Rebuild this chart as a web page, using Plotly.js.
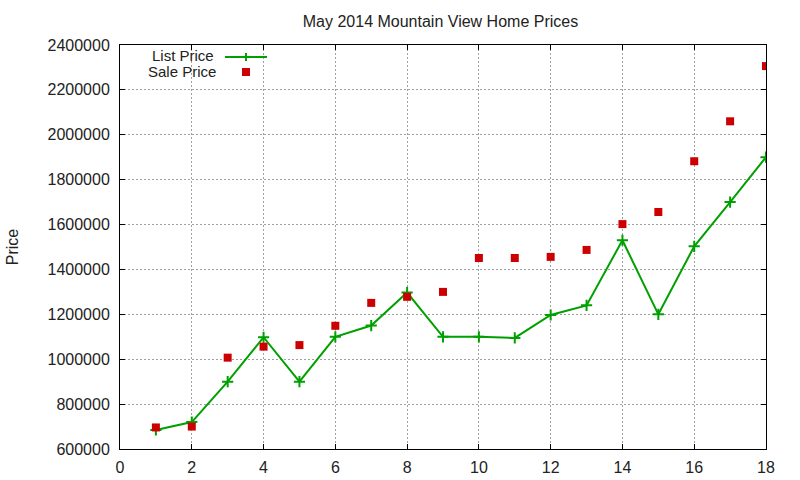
<!DOCTYPE html>
<html>
<head>
<meta charset="utf-8">
<script src="https://cdn.plot.ly/plotly-3.0.1.min.js"></script>
<style>html,body{margin:0;padding:0;background:#fff;}#chart{width:800px;height:480px;}</style>
</head>
<body>
<div id="chart"></div>
<script>
const months = [1,2,3,4,5,6,7,8,9,10,11,12,13,14,15,16,17,18];
const listPrice = [685000,720000,900000,1098000,900000,1100000,1150000,1297000,1100000,1100000,1095000,1197000,1240000,1530000,1200000,1503000,1700000,1900000];
const salePrice = [696000,700000,1007000,1056000,1063000,1149000,1251000,1278000,1300000,1451000,1451000,1456000,1487000,1602000,1656000,1882000,2060000,2306000];
const seriesNames = ['List Price','Sale Price'];
const chartTitle = 'May 2014 Mountain View Home Prices';

const GREEN = '#00a000', RED = '#cc0000';
const L = 120, R = 766, T = 45, B = 449;
const px = x => (x - L) / (R - L);
const py = y => (B - y) / (B - T);
const FONT = {family: 'Liberation Sans, Arial, sans-serif', size: 16, color: '#222'};
const LEGFONT = {family: 'Liberation Sans, Arial, sans-serif', size: 15, color: '#222'};

const traces = [
  {x: months, y: listPrice, name: seriesNames[0], type: 'scatter', mode: 'lines+markers',
   line: {color: GREEN, width: 2},
   marker: {symbol: 'cross-thin', size: 8, color: GREEN, line: {color: GREEN, width: 2}}},
  {x: months, y: salePrice, name: seriesNames[1], type: 'scatter', mode: 'markers',
   marker: {symbol: 'square', size: 8, color: RED, line: {width: 0}}}
];

const axisCommon = {
  showline: true, linecolor: '#000', linewidth: 1, mirror: 'allticks',
  ticks: 'inside', ticklen: 5, tickcolor: '#000', tickwidth: 1,
  showgrid: true, gridcolor: '#a0a0a0', gridwidth: 1, griddash: '2px,2px',
  zeroline: false, tickfont: FONT
};

const layout = {
  width: 800, height: 480,
  margin: {l: L, r: 800 - R, t: T, b: 480 - B, pad: 0},
  paper_bgcolor: '#fff', plot_bgcolor: '#fff',
  showlegend: false,
  font: FONT,
  title: {text: chartTitle, font: FONT, x: 0.5506, xanchor: 'center', y: 1 - 21/480, yanchor: 'middle'},
  xaxis: Object.assign({}, axisCommon, {range: [0, 18], dtick: 2, tick0: 0, ticklabelstandoff: 4}),
  yaxis: Object.assign({}, axisCommon, {range: [600000, 2400000], dtick: 200000, tick0: 600000,
    tickformat: 'd', ticklabelstandoff: 6,
    title: {text: 'Price', font: FONT, standoff: 24}}),
  annotations: [
    {xref: 'paper', yref: 'paper', x: px(216), y: py(55.5), xanchor: 'right', yanchor: 'middle',
     text: seriesNames[0], showarrow: false, font: LEGFONT},
    {xref: 'paper', yref: 'paper', x: px(218), y: py(71.5), xanchor: 'right', yanchor: 'middle',
     text: seriesNames[1], showarrow: false, font: LEGFONT}
  ],
  shapes: [
    {type: 'line', xref: 'paper', yref: 'paper', x0: px(225), x1: px(267), y0: py(57), y1: py(57),
     line: {color: GREEN, width: 2}},
    {type: 'line', xref: 'paper', yref: 'paper', x0: px(246), x1: px(246), y0: py(53), y1: py(61),
     line: {color: GREEN, width: 2}},
    {type: 'rect', xref: 'paper', yref: 'paper', x0: px(242), x1: px(250), y0: py(68), y1: py(76),
     fillcolor: RED, line: {width: 0}}
  ]
};

Plotly.newPlot('chart', traces, layout, {staticPlot: true, displayModeBar: false});
</script>
</body>
</html>
